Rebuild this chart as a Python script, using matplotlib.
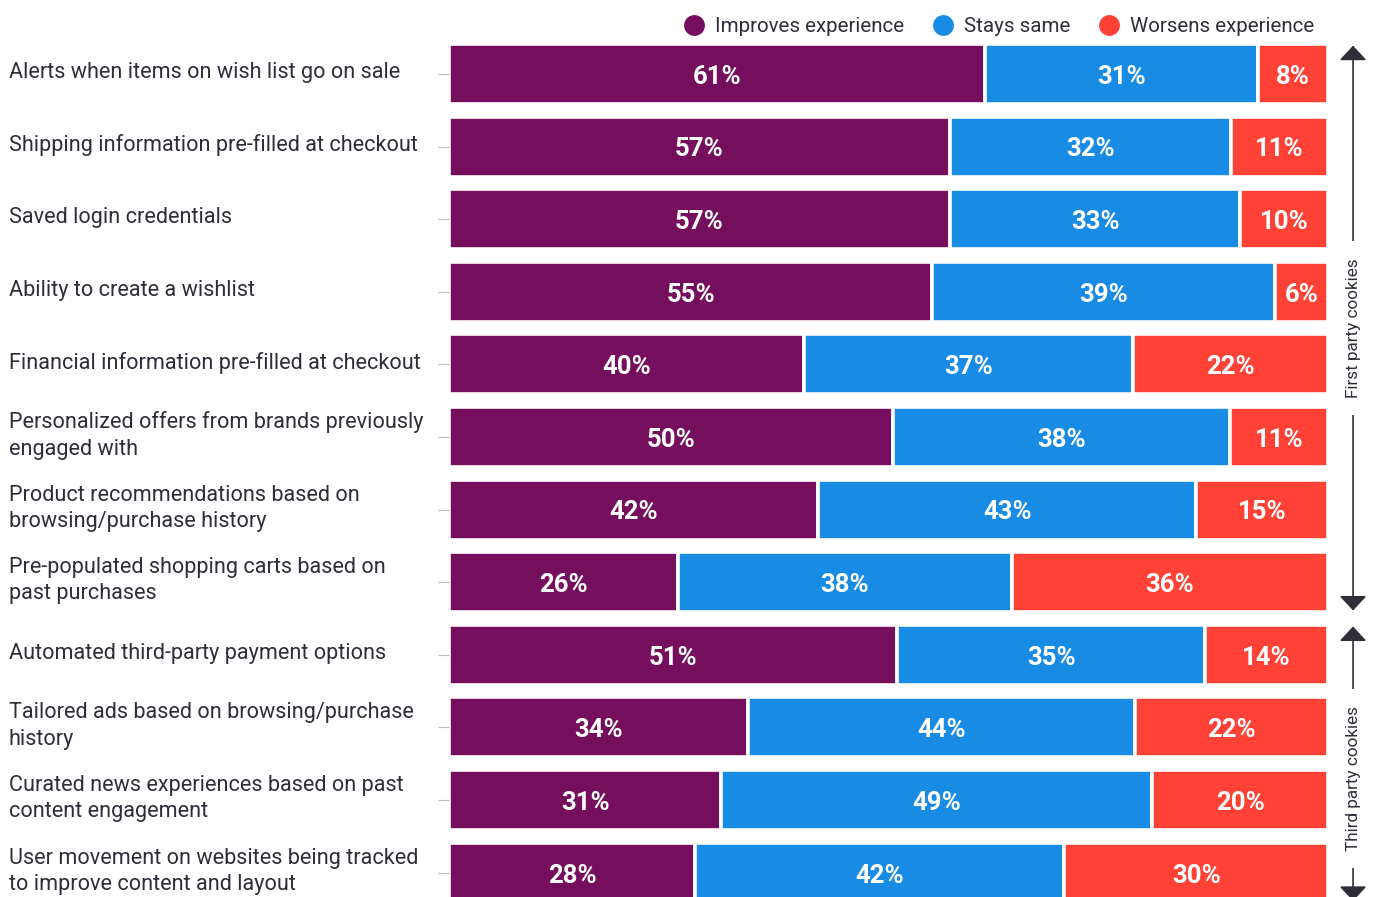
import matplotlib.pyplot as plt
import matplotlib.transforms as mtransforms
from matplotlib.lines import Line2D
import numpy as np

plt.rcParams['font.family'] = ['Roboto', 'DejaVu Sans']

# survey items, top to bottom
items = [
    'Alerts when items on wish list go on sale',
    'Shipping information pre-filled at checkout',
    'Saved login credentials',
    'Ability to create a wishlist',
    'Financial information pre-filled at checkout',
    'Personalized offers from brands previously\nengaged with',
    'Product recommendations based on\nbrowsing/purchase history',
    'Pre-populated shopping carts based on\npast purchases',
    'Automated third-party payment options',
    'Tailored ads based on browsing/purchase\nhistory',
    'Curated news experiences based on past\ncontent engagement',
    'User movement on websites being tracked\nto improve content and layout',
]
improves = [61, 57, 57, 55, 40, 50, 42, 26, 51, 34, 31, 28]
stays = [31, 32, 33, 39, 37, 38, 43, 38, 35, 44, 49, 42]
worsens = [8, 11, 10, 6, 22, 11, 15, 36, 14, 22, 20, 30]

series_names = ['Improves experience', 'Stays same', 'Worsens experience']
colors = ['#750E5C', '#188CE5', '#FF4136']
text_dark = '#2E2E38'

# first-party rows 0-7, third-party rows 8-11
groups = [('First party cookies', 0, 7), ('Third party cookies', 8, 11)]

W, H = 1375, 897
fig = plt.figure(figsize=(W / 100, H / 100), dpi=100)
ax = fig.add_axes([449 / W, 0, 879 / W, 1 - 40 / H])

vals = np.array([improves, stays, worsens], dtype=float)
shares = vals / vals.sum(axis=0) * 100
y = np.arange(len(items))
left = np.zeros(len(items))
for k in range(3):
    ax.barh(y, shares[k], left=left, height=0.825, color=colors[k],
            edgecolor='white', linewidth=2.6)
    for i in range(len(items)):
        ax.text(left[i] + shares[k][i] / 2, y[i] + 0.04, f'{int(vals[k][i])}%',
                ha='center', va='center', color='white', fontsize=18.5,
                fontweight='bold')
    left += shares[k]

ax.set_xlim(0, 100)
ax.set_ylim(11.336, -0.468)
for s in ax.spines.values():
    s.set_visible(False)
ax.set_xticks([])
ax.set_yticks(y)
ax.set_yticklabels([])
ax.tick_params(axis='y', length=8, width=0.8, color='#BBBBBB', pad=0)

# category labels, left aligned at the figure edge
trans = ax.get_yaxis_transform()
lab_trans = mtransforms.blended_transform_factory(fig.transFigure, ax.transData)
for i, name in enumerate(items):
    ax.text(9 / W, y[i] - 0.02, name, transform=lab_trans, ha='left',
            va='center', fontsize=15.6, color=text_dark, linespacing=1.32)

# bracket arrows for the two cookie groups
for label, a, b in groups:
    top, bot = a - 0.39, b + 0.39
    ax.annotate('', xy=(1.0285, top), xytext=(1.0285, bot), xycoords=trans,
                textcoords=trans, annotation_clip=False,
                arrowprops=dict(arrowstyle='<|-|>,head_length=0.45,head_width=0.42',
                                color=text_dark, lw=1.2, mutation_scale=20,
                                shrinkA=0, shrinkB=0))
    mid = (a + b) / 2 if b < 11 else 9.7
    ax.text(1.0285, mid, label, transform=trans, rotation=90, ha='center',
            va='center', fontsize=12.3, color=text_dark,
            bbox=dict(boxstyle='square,pad=1.0', fc='white', ec='none'))

handles = [Line2D([], [], marker='o', linestyle='none', markersize=15,
                  markerfacecolor=c, markeredgecolor='none') for c in colors]
ax.legend(handles, series_names, loc='lower right', bbox_to_anchor=(0.984, 1.005),
          ncol=3, frameon=False, fontsize=14.8, handletextpad=0.0,
          columnspacing=0.9, borderaxespad=0, borderpad=0,
          labelcolor=text_dark)

fig.savefig('out.png', dpi=100)
